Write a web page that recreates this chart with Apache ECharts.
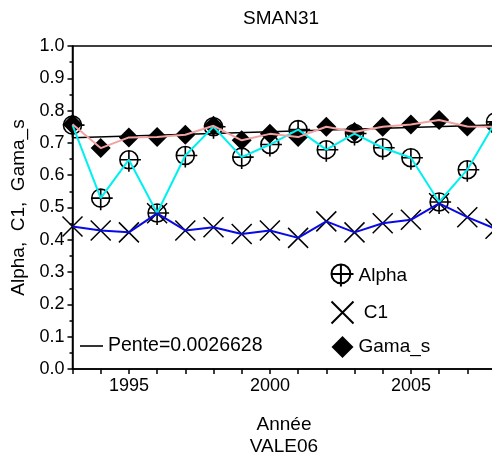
<!DOCTYPE html>
<html>
<head>
<meta charset="utf-8">
<script src="https://cdn.jsdelivr.net/npm/echarts@6/dist/echarts.min.js"></script>
<style>
html,body{margin:0;padding:0;background:#fff;}
#chart{width:492px;height:459px;}
</style>
</head>
<body>
<div id="chart"></div>
<script>
// ---- data ----
const years = [1993,1994,1995,1996,1997,1998,1999,2000,2001,2002,2003,2004,2005,2006,2007,2008];
const alpha = [0.755,0.529,0.648,0.483,0.661,0.750,0.656,0.695,0.741,0.679,0.729,0.685,0.654,0.517,0.617,0.765];
const c1    = [0.441,0.429,0.423,0.482,0.429,0.439,0.418,0.429,0.406,0.457,0.423,0.451,0.462,0.513,0.470,0.434];
const gama  = [0.758,0.684,0.717,0.718,0.725,0.753,0.708,0.728,0.718,0.750,0.734,0.750,0.757,0.771,0.751,0.750];
const trendYears  = [1993, 2008];
const trendValues = [0.716, 0.756];
const xTickLabels = [1995, 2000, 2005];
const yTickLabels = ['0.0','0.1','0.2','0.3','0.4','0.5','0.6','0.7','0.8','0.9','1.0'];
const titleText = 'SMAN31';
const xName = 'Année\nVALE06';
const yName = 'Alpha,  C1,  Gama_s';
const trendName = 'Pente=0.0026628';
const names = ['Alpha', ' C1', 'Gama_s'];

const pairs = (xs, ys) => xs.map((x, i) => [x, ys[i]]);
const FONT = 'Liberation Sans';

const alphaSym = 'path://M-9,0A9,9 0 1 1 9,0A9,9 0 1 1 -9,0ZM-9,0L12,0M0,-9L0,12';
const xSym = 'path://M-10,-10L10,10M-10,10L10,-10';

const chart = echarts.init(document.getElementById('chart'), null, {renderer: 'canvas'});
chart.setOption({
  animation: false,
  backgroundColor: '#fff',
  textStyle: {fontFamily: FONT, color: '#000'},
  title: {
    text: titleText, left: 281, top: 9, textAlign: 'center', padding: 0,
    textStyle: {fontFamily: FONT, fontSize: 19, fontWeight: 'normal', color: '#000'}
  },
  grid: {left: 72.5, top: 46, width: 423, bottom: 90, show: true, borderColor: '#000', borderWidth: 1.5,
         containLabel: false, outerBoundsMode: 'none'},
  legend: [{
    data: [
      {name: names[0], icon: alphaSym},
      {name: names[1], icon: xSym},
      {name: names[2], icon: 'diamond'}
    ],
    orient: 'vertical', left: 329, top: 262, itemWidth: 22, itemHeight: 22, itemGap: 10, padding: 0,
    textStyle: {fontFamily: FONT, fontSize: 19, color: '#000'},
    selectedMode: false
  }, {
    data: [{name: trendName, icon: 'rect'}],
    left: 80, top: 336, itemWidth: 23, itemHeight: 1.6, padding: 0, itemGap: 4,
    textStyle: {fontFamily: FONT, fontSize: 19.5, color: '#000'},
    selectedMode: false
  }],
  xAxis: {
    type: 'value', min: 1993, max: 2008, interval: 1,
    name: xName, nameLocation: 'middle', nameGap: 45,
    nameTextStyle: {fontFamily: FONT, fontSize: 19, color: '#000', lineHeight: 22},
    axisLine: {lineStyle: {color: '#000', width: 1.5}},
    axisTick: {show: true, length: 5, lineStyle: {color: '#000', width: 1.5}},
    axisLabel: {
      fontFamily: FONT, fontSize: 18, color: '#000', margin: 8,
      formatter: v => xTickLabels.indexOf(v) >= 0 ? String(v) : ''
    },
    splitLine: {show: false}
  },
  yAxis: {
    type: 'value', min: 0, max: 1, interval: 0.1,
    name: yName, nameLocation: 'middle', nameGap: 35, nameRotate: 90,
    nameTextStyle: {fontFamily: FONT, fontSize: 19, color: '#000'},
    axisLine: {show: true, lineStyle: {color: '#000', width: 1.5}},
    axisTick: {show: true, length: 5, lineStyle: {color: '#000', width: 1.5}},
    minorTick: {show: true, splitNumber: 2, length: 3, lineStyle: {color: '#000', width: 1.5}},
    axisLabel: {
      fontFamily: FONT, fontSize: 18, color: '#000', margin: 8,
      formatter: v => yTickLabels[Math.round(v * 10)]
    },
    splitLine: {show: false},
    minorSplitLine: {show: false}
  },
  series: [
    {
      name: trendName, type: 'line', data: pairs(trendYears, trendValues),
      showSymbol: false, symbol: 'none', z: 4,
      lineStyle: {color: '#000', width: 1.5}, itemStyle: {color: '#000'}
    },
    {
      name: names[2], type: 'scatter', data: pairs(years, gama),
      symbol: 'diamond', symbolSize: 20, z: 3,
      itemStyle: {color: '#000', borderWidth: 0, opacity: 1}
    },
    {
      name: names[0], type: 'scatter', data: pairs(years, alpha),
      symbol: alphaSym, symbolSize: 21, symbolOffset: [1.5, 1.5], z: 3,
      itemStyle: {color: 'none', borderColor: '#000', borderWidth: 1.6, opacity: 1}
    },
    {
      name: names[1], type: 'scatter', data: pairs(years, c1),
      symbol: xSym, symbolSize: 20, z: 3,
      itemStyle: {color: 'none', borderColor: '#000', borderWidth: 1.5, opacity: 1}
    },
    {
      name: 'alphaLine', type: 'line', data: pairs(years, alpha), showSymbol: false, symbol: 'none', z: 5,
      lineStyle: {color: '#00f0f0', width: 2}
    },
    {
      name: 'c1Line', type: 'line', data: pairs(years, c1), showSymbol: false, symbol: 'none', z: 5,
      lineStyle: {color: '#0a0ae6', width: 2}
    },
    {
      name: 'gamaLine', type: 'line', data: pairs(years, gama), showSymbol: false, symbol: 'none', z: 6,
      lineStyle: {color: '#f3a2a2', width: 2}
    }
  ]
});
</script>
</body>
</html>
